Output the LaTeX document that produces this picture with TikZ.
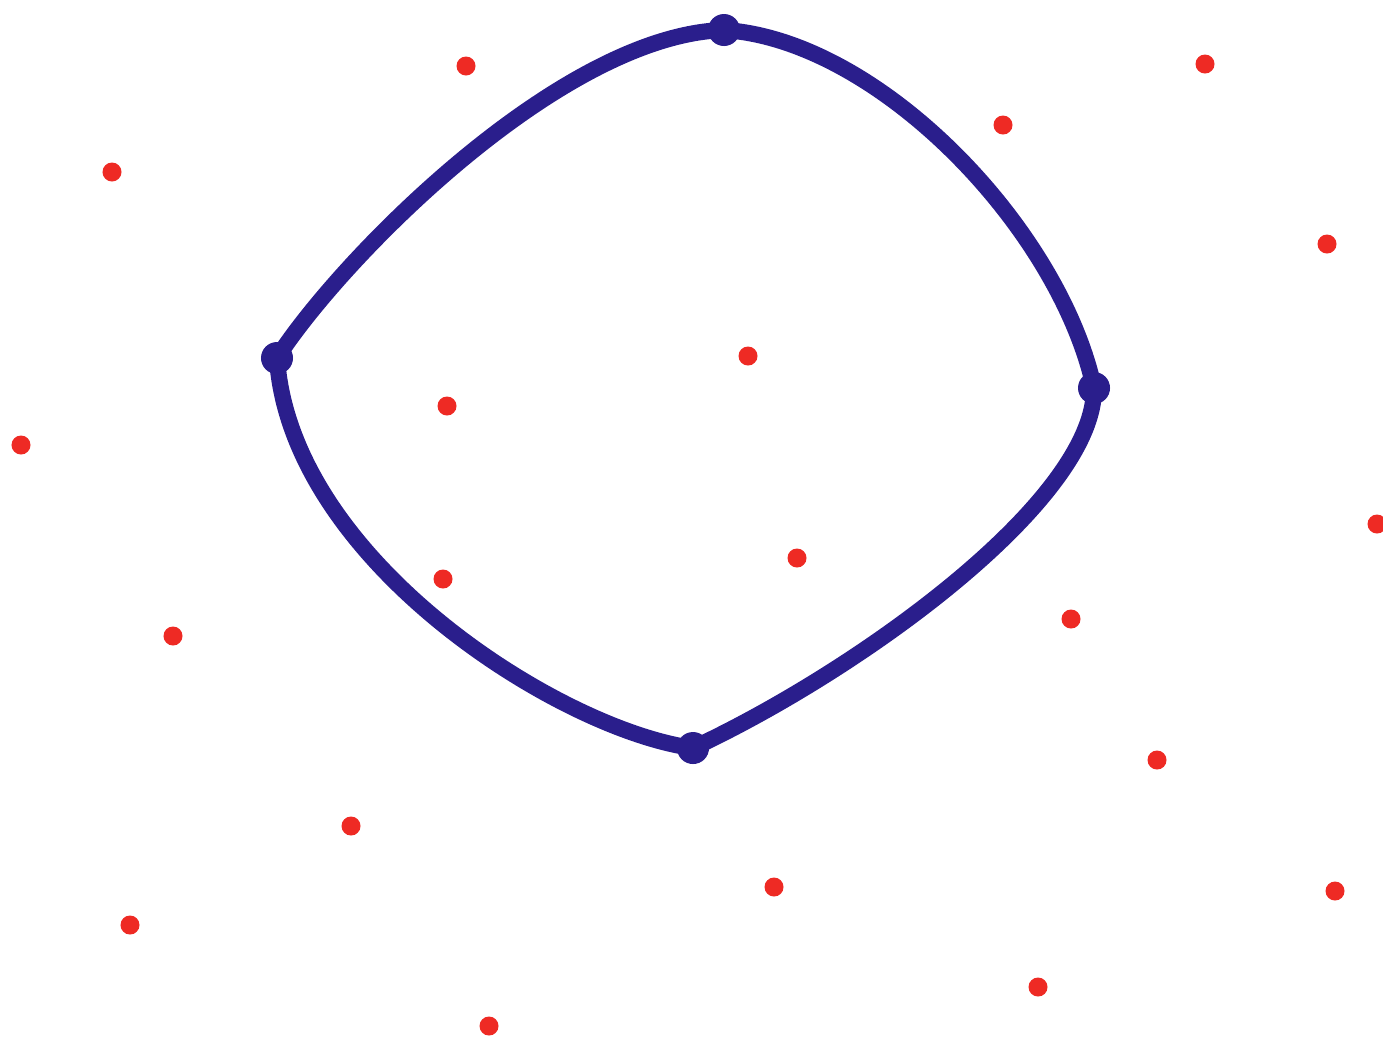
\documentclass[tikz,border=0pt]{standalone}
\usepackage{tikz}
\definecolor{stift}{RGB}{42,30,140}
\definecolor{rood}{RGB}{238,42,36}

\begin{document}
\begin{tikzpicture}[x=0.01cm, y=-0.01cm]

% --- Styles ---
\tikzset{
    hoek/.style={
        circle,
        fill=stift,
        minimum size=0.32cm,
        inner sep=0pt
    },
    stip/.style={
        circle,
        fill=rood,
        minimum size=0.19cm,
        inner sep=0pt
    },
    rand/.style={
        draw=stift,
        line width=4.6pt,
        line cap=round,
        line join=round
    }
}

\useasboundingbox (0,0) rectangle (1383,1038);

% --- Corner points of the loop ---
\node[hoek] (boven) at (724, 30)  {};
\node[hoek] (rechts) at (1094, 388) {};
\node[hoek] (onder) at (693, 748) {};
\node[hoek] (links) at (277, 358) {};

% --- The loop ---
\draw[rand] (boven.center) .. controls (880,40) and (1060,230) .. (rechts.center)
    .. controls (1095,500) and (860,670) .. (onder.center)
    .. controls (560,730) and (290,560) .. (links.center)
    .. controls (340,260) and (560,35) .. (boven.center);

% --- Red dots ---
\node[stip] (r1) at (466, 66) {};
\node[stip] (r2) at (1205, 64) {};
\node[stip] (r3) at (112, 172) {};
\node[stip] (r4) at (1003, 125) {};
\node[stip] (r5) at (1327, 244) {};
\node[stip] (r6) at (748, 356) {};
\node[stip] (r7) at (447, 406) {};
\node[stip] (r8) at (21, 445) {};
\node[stip] (r9) at (1377, 524) {};
\node[stip] (r10) at (797, 558) {};
\node[stip] (r11) at (443, 579) {};
\node[stip] (r12) at (1071, 619) {};
\node[stip] (r13) at (173, 636) {};
\node[stip] (r14) at (1157, 760) {};
\node[stip] (r15) at (351, 826) {};
\node[stip] (r16) at (774, 887) {};
\node[stip] (r17) at (130, 925) {};
\node[stip] (r18) at (1335, 891) {};
\node[stip] (r19) at (1038, 987) {};
\node[stip] (r20) at (489, 1026) {};
\end{tikzpicture}
\end{document}
